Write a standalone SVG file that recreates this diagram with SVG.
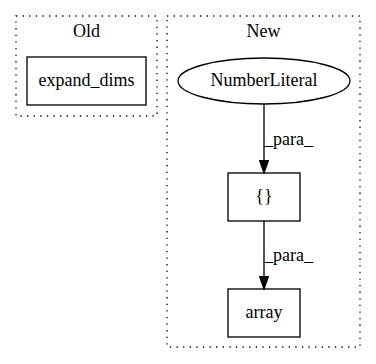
<svg xmlns="http://www.w3.org/2000/svg" width="376" height="364" viewBox="0 0 376 364">
  <defs>
    <marker id="arrow" viewBox="0 0 14 10" refX="13.3" refY="5" markerWidth="14" markerHeight="10" markerUnits="userSpaceOnUse" orient="auto">
      <polygon points="0,0.3 13.3,5 0,9.7" fill="#000" stroke="#000" stroke-width="1.3"/>
    </marker>
  </defs>
  <style>
    text { font-family: 'Liberation Serif', 'Times New Roman', serif; font-size: 18px; fill: #000; }
    .cluster { fill: none; stroke: #000; stroke-dasharray: 1.3,5.3; stroke-width: 1.33; }
    .node { fill: none; stroke: #000; stroke-width: 1.33; }
    .edge { fill: none; stroke: #000; stroke-width: 1.33; }
  </style>
  <rect width="376" height="364" fill="#fff"/>

  <g id="cluster_old">
    <rect class="cluster" x="16" y="16" width="141" height="100"/>
    <text x="86.5" y="37" text-anchor="middle">Old</text>
  </g>
  <g id="cluster_new">
    <rect class="cluster" x="167" y="16" width="193" height="331"/>
    <text x="263.5" y="37" text-anchor="middle">New</text>
  </g>

  <g id="expand_dims">
    <rect class="node" x="27" y="57" width="119" height="48"/>
    <text x="86.5" y="86" text-anchor="middle">expand_dims</text>
  </g>
  <g id="number_literal">
    <ellipse class="node" cx="264" cy="81" rx="86" ry="23"/>
    <text x="264" y="86" text-anchor="middle">NumberLiteral</text>
  </g>
  <g id="braces">
    <rect class="node" x="228" y="173" width="72" height="48"/>
    <text x="264" y="202" text-anchor="middle">{}</text>
  </g>
  <g id="array">
    <rect class="node" x="228" y="289" width="72" height="48"/>
    <text x="264" y="318" text-anchor="middle">array</text>
  </g>

  <g id="edges">
    <path class="edge" d="M264,104 L264,173" marker-end="url(#arrow)"/>
    <text x="264" y="145">_para_</text>
    <path class="edge" d="M264,221 L264,289" marker-end="url(#arrow)"/>
    <text x="264" y="261">_para_</text>
  </g>
</svg>
